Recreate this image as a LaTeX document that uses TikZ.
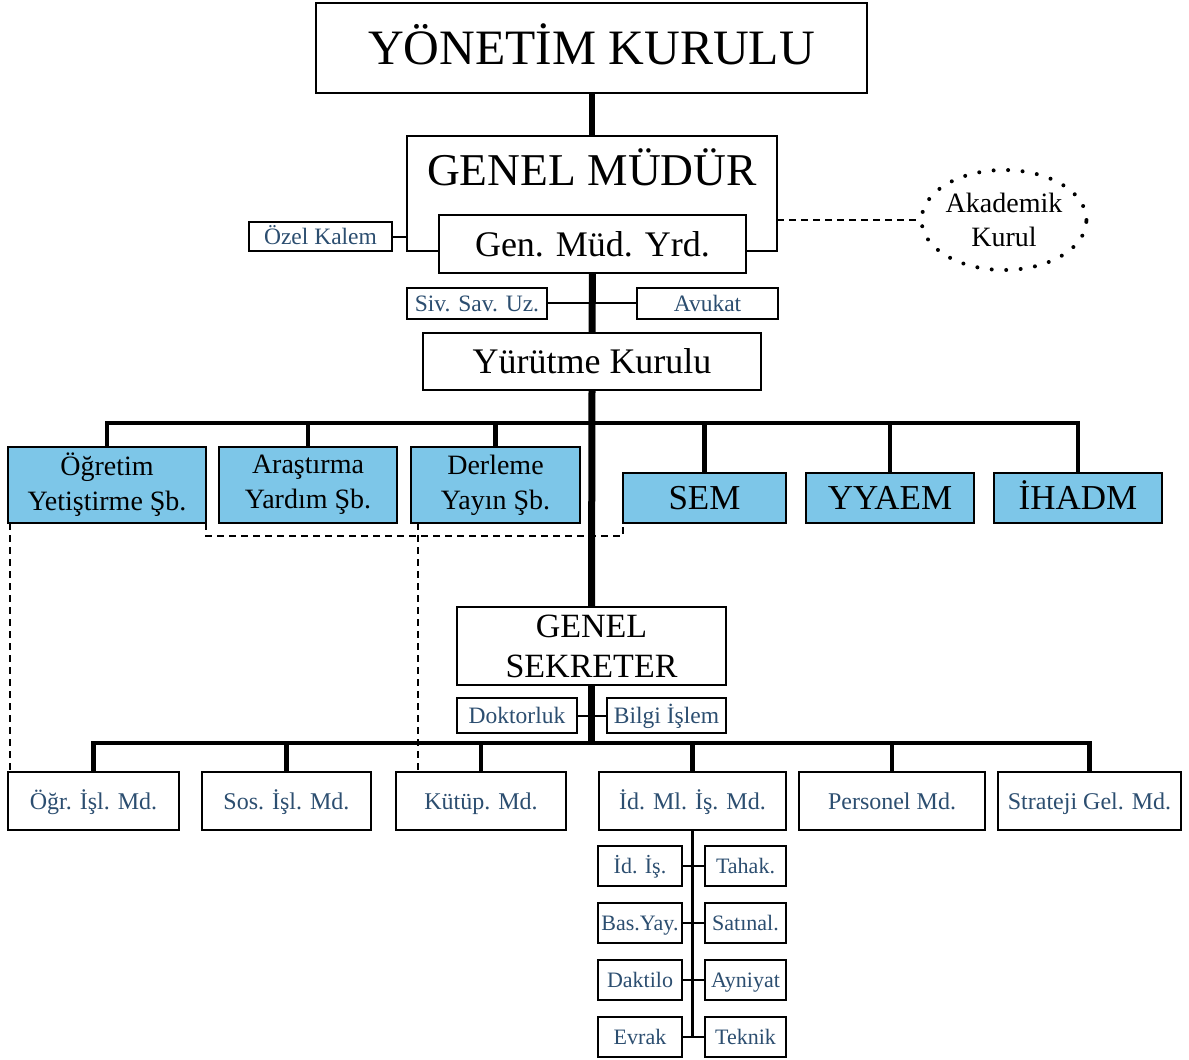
\documentclass[tikz,border=0pt]{standalone}
\usepackage{fontspec}
\setmainfont{Liberation Serif}
\usetikzlibrary{shapes.geometric}
\definecolor{sbl}{RGB}{125,198,232}
\definecolor{stx}{RGB}{44,78,112}
\newcommand{\fs}[2]{\fontsize{#1}{#2}\selectfont}
\begin{document}
\begin{tikzpicture}[x=1pt,y=-1pt,
  box/.style={draw, line width=2pt, inner sep=0pt, outer sep=0pt, fill=white, align=center},
  bluebox/.style={box, fill=sbl},
  lbl/.style={text=stx},
  spine/.style={line width=7pt},
  busline/.style={line width=4.5pt, line join=miter},
  thinline/.style={line width=2pt},
  dsh/.style={line width=2pt, dash pattern=on 7pt off 5pt},
  smallfont/.style={font=\fs{23.5}{26}, text height=16pt, text depth=0pt},
  botfont/.style={font=\fs{24}{26}, text height=16.3pt, text depth=0pt},
  subfont/.style={font=\fs{22}{24}, text height=15pt, text depth=0pt},
  midfont/.style={font=\fs{36}{40}, text height=24.6pt, text depth=0pt},
  brfont/.style={font=\fs{28}{35}},
  cenfont/.style={font=\fs{35}{38}, text height=23.2pt, text depth=0pt},
  ]
\useasboundingbox (0,0) rectangle (1189,1060);

% ---- top ----
\node[box, minimum width=551, minimum height=90, font=\fs{49.5}{56}, text height=32.8pt, text depth=0pt] (yk) at (591.5,48) {YÖNETİM KURULU};
\coordinate (gmtl) at (406.5,136);
\coordinate (gmtr) at (777,136);
\coordinate (gmbl) at (406.5,251);
\coordinate (gmbr) at (777,251);
\node[inner sep=0pt, font=\fs{45.5}{50}, text height=30.1pt, text depth=0pt] (gm) at (592,170) {GENEL MÜDÜR};
\node[box, midfont, minimum width=307, minimum height=58] (gmy) at (592.5,244) {Gen. Müd. Yrd.};
\draw[thinline] (gmy.west |- gmbl) -- (gmbl) -- (gmtl) -- (gmtr) -- (gmbr) -- (gmy.east |- gmbr);
\draw[line width=6pt] (yk.south) -- (yk.south |- gmtl);

\node[box, lbl, smallfont, minimum width=143, minimum height=29] (ozel) at (320.5,236.5) {Özel Kalem};
\draw[thinline] (ozel.east) -- (ozel.east -| gmtl);

\node[ellipse, draw, line width=4pt, dash pattern=on 0pt off 14.5pt, line cap=round,
      minimum width=163, minimum height=100, inner sep=0pt, align=center,
      font=\fs{28}{34}] (aka) at (1004,220) {Akademik\\Kurul};
\draw[dsh] (aka.west -| gmtr) -- (aka.west);

\node[box, lbl, smallfont, minimum width=140, minimum height=31] (siv) at (477,303) {Siv. Sav. Uz.};
\node[box, lbl, smallfont, minimum width=141, minimum height=31] (avu) at (707.5,303) {Avukat};
\draw[thinline] (siv.east) -- (avu.west);

\node[box, midfont, minimum width=338, minimum height=57] (yur) at (592,361.5) {Yürütme Kurulu};
\draw[spine] (gmy.south) -- (yur.north);

% ---- branches ----
\coordinate (b1) at (592,423);
\node[bluebox, brfont, minimum width=198, minimum height=76] (ogt) at (107,485) {Öğretim\\Yetiştirme Şb.};
\node[bluebox, brfont, minimum width=178, minimum height=76] (ars) at (308,485) {Araştırma\\Yardım Şb.};
\node[bluebox, brfont, minimum width=169, minimum height=76] (der) at (495.5,485) {Derleme\\Yayın Şb.};
\node[bluebox, cenfont, minimum width=163, minimum height=50] (sem) at (704.5,498) {SEM};
\node[bluebox, cenfont, minimum width=168, minimum height=50] (yya) at (890,498) {YYAEM};
\node[bluebox, cenfont, minimum width=168, minimum height=50] (ihd) at (1078,498) {İHADM};
\draw[busline] (ogt.north) -- (ogt.north |- b1) -- (ihd.north |- b1) -- (ihd.north);
\foreach \n in {ars,der,sem,yya} {\draw[busline] (\n.north) -- (\n.north |- b1);}

% ---- genel sekreter ----
\node[box, font=\fs{34}{40}, minimum width=269, minimum height=78] (gs) at (591.5,646) {GENEL\\SEKRETER};
\node[box, lbl, smallfont, minimum width=120, minimum height=35] (dok) at (517,715.5) {Doktorluk};
\node[box, lbl, smallfont, minimum width=119, minimum height=35] (bil) at (666.5,715.5) {Bilgi İşlem};
\draw[thinline] (dok.east) -- (bil.west);

% ---- directorates ----
\coordinate (b2) at (592,743);
\node[box, lbl, botfont, minimum width=171, minimum height=58] (ogr) at (93.5,801) {Öğr. İşl. Md.};
\node[box, lbl, botfont, minimum width=169, minimum height=58] (sos) at (286.5,801) {Sos. İşl. Md.};
\node[box, lbl, botfont, minimum width=170, minimum height=58] (kut) at (481,801) {Kütüp. Md.};
\node[box, lbl, botfont, minimum width=187, minimum height=58] (idm) at (692.5,801) {İd. Ml. İş. Md.};
\node[box, lbl, botfont, minimum width=186, minimum height=58] (per) at (892,801) {Personel Md.};
\node[box, lbl, botfont, minimum width=183, minimum height=58] (str) at (1089.5,801) {Strateji Gel. Md.};
\draw[busline] (ogr.north) -- (ogr.north |- b2) -- (str.north |- b2) -- (str.north);
\foreach \n in {sos,kut,idm,per} {\draw[busline] (\n.north) -- (\n.north |- b2);}

% dashed relations
\coordinate (dl) at (10,0);
\coordinate (dr) at (418,0);
\draw[dsh] (ogt.south -| dl) -- (ogr.north -| dl);
\draw[dsh] (der.south -| dr) -- (kut.north -| dr);
\draw[dsh] (ogt.south east) -- ++(0,13) -| (sem.south west);

% spine through the middle
\draw[spine] (yur.south) -- (gs.north);
\draw[spine] (gs.south) -- (gs.south |- b2);

% ---- sub units ----
\node[box, lbl, subfont, minimum width=84, minimum height=40] (l1) at (640,866) {İd. İş.};
\node[box, lbl, subfont, minimum width=84, minimum height=40] (l2) at (640,923) {Bas.Yay.};
\node[box, lbl, subfont, minimum width=84, minimum height=40] (l3) at (640,980) {Daktilo};
\node[box, lbl, subfont, minimum width=84, minimum height=40] (l4) at (640,1037) {Evrak};
\node[box, lbl, subfont, minimum width=81, minimum height=40] (r1) at (745.5,866) {Tahak.};
\node[box, lbl, subfont, minimum width=81, minimum height=40] (r2) at (745.5,923) {Satınal.};
\node[box, lbl, subfont, minimum width=81, minimum height=40] (r3) at (745.5,980) {Ayniyat};
\node[box, lbl, subfont, minimum width=81, minimum height=40] (r4) at (745.5,1037) {Teknik};
\draw[line width=2.5pt] (idm.south) -- (idm.south |- l4.east);
\foreach \i in {1,2,3,4} {\draw[thinline] (l\i.east) -- (r\i.west);}
\end{tikzpicture}
\end{document}
